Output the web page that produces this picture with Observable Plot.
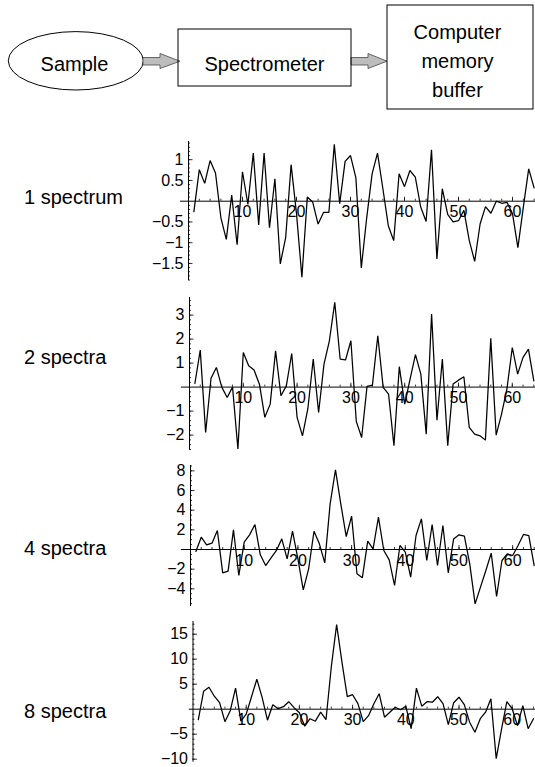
<!DOCTYPE html>
<html><head><meta charset="utf-8">
<script src="https://cdn.jsdelivr.net/npm/d3@7"></script>
<script src="https://cdn.jsdelivr.net/npm/@observablehq/plot@0.6"></script>
<style>
body{margin:0;background:#fff;}
#root{position:relative;width:535px;height:767px;overflow:hidden;font-family:"Liberation Sans",Arial,Helvetica,sans-serif;}
.lab{position:absolute;font-size:20px;line-height:20px;white-space:nowrap;color:#000;}
.blk{position:absolute;left:0;}
</style></head><body><div id="root"></div>
<script>
// ---------------- data ----------------
const panelLabels = ["1 spectrum", "2 spectra", "4 spectra", "8 spectra"];
const diagramLabels = ["Sample", "Spectrometer", "Computer\nmemory\nbuffer"];
const channels = d3.range(1, 65);
const spec1 = [-0.25,0.76,0.43,0.98,0.68,-0.40,-0.92,0.15,-1.05,0.71,
  -0.08,1.16,-0.57,1.16,-0.64,0.54,-1.51,-0.87,0.88,-0.3,
  -1.83,0.1,-0.02,-0.55,-0.27,-0.27,1.37,-0.06,0.96,1.1,
  0.56,-1.61,-0.4,0.66,1.16,0.3,-0.59,-0.95,0.66,0.35,
  0.74,0.58,-0.14,-0.49,1.24,-1.39,0.3,-0.32,-0.5,-0.47,
  -0.22,-0.95,-1.45,-0.55,-0.13,-0.29,0.0,-0.05,-0.03,-0.3,
  -1.12,-0.15,0.78,0.32];
const spec2 = [0.15,1.54,-1.89,0.37,0.82,0,-0.43,0,-2.58,1.44,
  0.89,0.71,0.12,-1.26,-0.71,1.51,-0.36,0.05,1.4,-1.26,
  -2.03,-0.9,1.17,-1.06,0.96,1.93,3.53,1.17,1.13,1.93,
  -1.43,-2.1,0.03,0.08,2.14,-0.01,-0.29,-2.44,0.85,-0.71,
  0.33,1.35,0.54,-1.96,3.04,-1.38,1.17,-2.44,0.13,0.29,
  0.43,-1.68,-1.96,-2.03,-2.21,2.03,-2.0,-1.13,-0.08,1.65,
  0.54,1.24,1.58,0.26];
const spec4 = [-0.2,1.25,0.47,0.64,1.93,-2.37,-2.2,2.0,-2.64,0.75,
  1.49,2.54,-0.54,-1.63,-0.85,-0.1,1.08,-0.95,1.86,-0.95,
  -4.1,-1.97,1.86,0.58,-1.36,4.64,8.1,4.6,1.32,3.4,
  -2.47,-2.88,0.85,0.07,3.29,-0.1,-1.05,-3.66,0.41,-0.27,
  -2.81,1.42,3.12,-1.12,2.54,-1.63,2.44,-2.37,1.08,1.49,
  1.36,-1.46,-5.53,-3.83,-2.14,-0.37,-4.78,-1.12,-0.44,-0.61,
  0.41,1.53,1.42,-1.63];
const spec8 = [-2.1,3.6,4.4,2.6,1.3,-2.5,-0.3,4.2,-2.4,-1.0,
  2.5,6.0,2.3,-2.2,0.9,0.1,0.5,1.5,0.3,-0.7,
  -3.4,-1.9,-2.4,-0.6,-2.1,8.5,16.9,9.4,2.5,2.9,
  1.1,-2.5,-1.3,1.1,3.1,-1.6,-0.6,0.4,-0.1,0.6,
  -3.9,4.2,0.6,1.5,1.4,2.5,1.1,-3.1,1.3,2.4,
  0.9,-2.6,-4.6,-1.9,-0.6,2.1,-9.9,-4.0,1.5,0.1,
  -3.3,0.7,-3.9,-1.9];
const xTickLabels = [10, 20, 30, 40, 50, 60];
const yTicks1 = [1, 0.5, -0.5, -1, -1.5];
const yTicks2 = [3, 2, 1, -1, -2];
const yTicks4 = [8, 6, 4, 2, -2, -4];
const yTicks8 = [15, 10, 5, -5, -10];

// ---------------- layout ----------------
const W = 535;
const font = '"Liberation Sans", Arial, Helvetica, sans-serif';
const root = document.getElementById("root");

// diagram geometry (pixel layout)
const boxes = [{x1:178,x2:351,y1:29,y2:86},{x1:387,x2:533,y1:5,y2:109}];
const labelPos = [{x:74,y:61.5},{x:264,y:61.5},{x:457,y:58.6}];
const arrows = [{x0:143,xn:160,xt:180},{x0:351,xn:368,xt:387}];

const diagram = Plot.plot({
  width: W, height: 120, margin: 0,
  x: {domain:[0,W], range:[0,W], axis:null},
  y: {domain:[0,120], range:[0,120], axis:null},
  style: {fontFamily: font, background:"transparent"},
  marks: [
    (index, {x, y}) => {
      const g = d3.create("svg:g");
      g.append("ellipse").attr("cx", x(75.8)).attr("cy", y(60.8)).attr("rx", 67.5).attr("ry", 29.2)
        .attr("fill","none").attr("stroke","#000").attr("stroke-width",1);
      for (const a of arrows) {
        const pts = [[a.x0,57.5],[a.xn,57.5],[a.xn,53.5],[a.xt,61.2],[a.xn,68.5],[a.xn,65],[a.x0,65]];
        g.append("polygon").attr("points", pts.map(p=>[x(p[0]),y(p[1])].join(",")).join(" "))
          .attr("fill","#bdbdbd").attr("stroke","#555").attr("stroke-width",0.9);
      }
      return g.node();
    },
    Plot.rect(boxes, {x1:"x1", x2:"x2", y1:"y1", y2:"y2", fill:"none", stroke:"#000", strokeWidth:1}),
    Plot.text(diagramLabels, {x:(d,i)=>labelPos[i].x, y:(d,i)=>labelPos[i].y, text:d=>d,
      fontSize:20, lineHeight:1.45, fill:"#000"})
  ]
});
diagram.classList.add("blk"); diagram.style.top = "0px";
root.appendChild(diagram);

const fmt = d => String(d).replace("-", "\u2212");

function panel(cfg, values, yTicks) {
  const {axisX, spacing, xmin, zeroY, ppu, top, bottom, minor} = cfg;
  const xmax = (W - axisX) / spacing;
  const ytop = (zeroY - top) / ppu, ybot = -(bottom - zeroY) / ppu;
  const H = bottom - top + 20;
  const yMinor = [];
  for (let k = Math.ceil(ybot/minor); k*minor <= ytop; k++) if (k !== 0) yMinor.push(+(k*minor).toFixed(4));
  const xMinor = d3.range(2, 65, 2);
  const p = Plot.plot({
    width: W, height: H, marginTop: 10, marginBottom: 10,
    marginLeft: axisX + xmin*spacing, marginRight: 0,
    x: {domain:[xmin, xmax], axis:null},
    y: {domain:[ybot, ytop], axis:null},
    style: {fontFamily: font, background:"transparent", overflow:"visible"},
    marks: [
      Plot.ruleY([0], {stroke:"#000", strokeWidth:1}),
      Plot.ruleX([0], {stroke:"#000", strokeWidth:1}),
      Plot.ruleX(xMinor, {x:d=>d, y1:0, y2:2/ppu, stroke:"#000", strokeWidth:0.8}),
      Plot.ruleX(xTickLabels, {x:d=>d, y1:0, y2:4/ppu, stroke:"#000", strokeWidth:0.8}),
      Plot.ruleY(yMinor, {y:d=>d, x1:0, x2:2/spacing, stroke:"#000", strokeWidth:0.8}),
      Plot.ruleY(yTicks, {y:d=>d, x1:0, x2:4.5/spacing, stroke:"#000", strokeWidth:0.8}),
      Plot.text(xTickLabels, {x:d=>d, y:0, dy:11, text:fmt, fontSize:16, fill:"#000"}),
      Plot.text(yTicks, {x:0, y:d=>d, dx:-5, textAnchor:"end", text:fmt, fontSize:16, fill:"#000"}),
      Plot.line(values, {x:(d,i)=>channels[i], y:d=>d, stroke:"#000", strokeWidth:1.25, strokeLinejoin:"miter"})
    ]
  });
  p.classList.add("blk"); p.style.top = (top - 10) + "px";
  root.appendChild(p);
}

panel({axisX:188, spacing:5.4, xmin:-1.48, zeroY:200.7, ppu:41.5, top:141, bottom:280, minor:0.1}, spec1, yTicks1);
panel({axisX:189, spacing:5.38, xmin:-1.5, zeroY:386.3, ppu:24, top:296.7, bottom:449, minor:0.2}, spec2, yTicks2);
panel({axisX:190, spacing:5.37, xmin:-1.7, zeroY:549, ppu:9.83, top:465, bottom:606, minor:0.5}, spec4, yTicks4);
panel({axisX:192.5, spacing:5.32, xmin:-0.7, zeroY:708.7, ppu:5, top:621, bottom:761.7, minor:1}, spec8, yTicks8);

const labTops = [187, 347, 538, 701];
panelLabels.forEach((t, i) => {
  const d = document.createElement("div");
  d.className = "lab"; d.textContent = t;
  d.style.left = "24px"; d.style.top = labTops[i] + "px";
  root.appendChild(d);
});
</script></body></html>
